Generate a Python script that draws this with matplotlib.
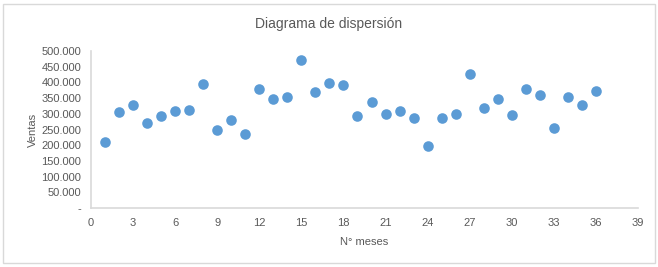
import numpy as np
import matplotlib.pyplot as plt
from matplotlib.patches import Rectangle
from matplotlib.ticker import FuncFormatter

# values (sales per month)
meses = list(range(1, 37))
ventas = [210, 305, 327, 270, 292, 310, 313, 395, 250, 280, 236, 378,
          348, 354, 470, 368, 398, 391, 293, 336, 300, 310, 288, 197,
          288, 298, 428, 317, 347, 296, 378, 360, 254, 353, 329, 372]
ventas = [v * 1000 for v in ventas]

x_ticks = list(range(0, 40, 3))
y_ticks = list(range(0, 500001, 50000))

plt.rcParams["font.family"] = ["Liberation Sans", "DejaVu Sans"]
txt = "#595959"
axis_col = "#d9d9d9"

fig = plt.figure(figsize=(6.58, 2.67), dpi=100)
ax = fig.add_axes([91 / 658, 1 - 208 / 267, (638 - 91) / 658, (208 - 51) / 267])

ax.scatter(meses, ventas, s=58, color="#5b9bd5", zorder=3, linewidths=0)

ax.set_xlim(0, 39)
ax.set_ylim(0, 500000)
ax.set_xticks(x_ticks)
ax.set_yticks(y_ticks)


def fmt_miles(v, pos):
    if v == 0:
        return "-"
    return f"{int(v):,}".replace(",", ".")


ax.yaxis.set_major_formatter(FuncFormatter(fmt_miles))
ax.tick_params(axis="both", length=0, labelsize=8, colors=txt, pad=7)

for side in ("top", "right"):
    ax.spines[side].set_visible(False)
for side in ("left", "bottom"):
    ax.spines[side].set_color(axis_col)
    ax.spines[side].set_linewidth(1.2)

ax.set_xlabel("N° meses", fontsize=8, color=txt, labelpad=7)
ax.set_ylabel("Ventas", fontsize=8, color=txt)
ax.yaxis.set_label_coords(-(91 - 38) / 547, 0.5)
fig.text(0.5, 1 - 24 / 267, "Diagrama de dispersión", ha="center", va="center",
         fontsize=10, color=txt)

# chart frame
fig.patches.append(Rectangle((3 / 658, 4 / 267), 652 / 658, 259 / 267,
                             transform=fig.transFigure, fill=False,
                             edgecolor=axis_col, linewidth=1))

fig.savefig("out.png", dpi=100)
